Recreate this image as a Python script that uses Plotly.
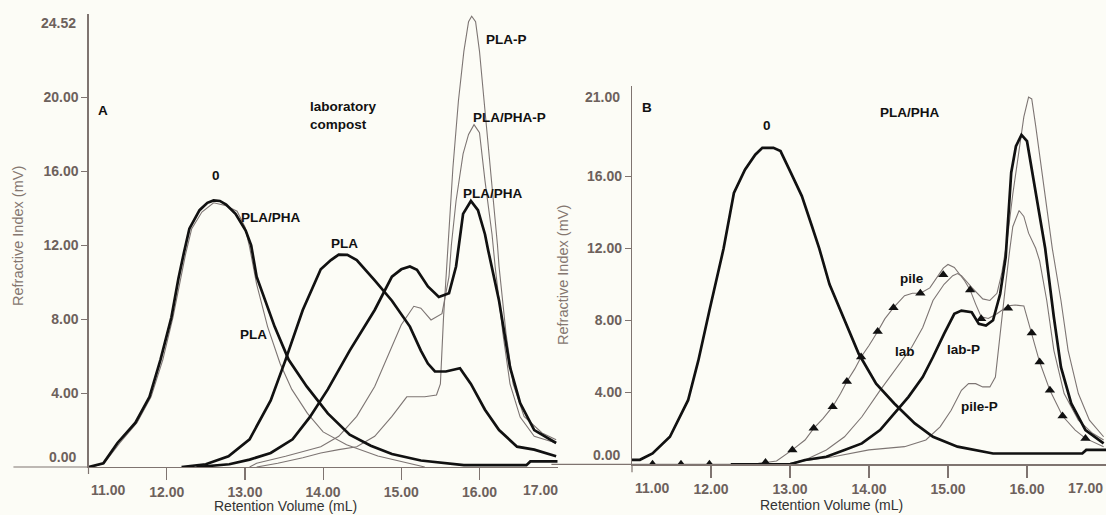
import plotly.graph_objects as go

# ---------------- Panel A (laboratory compost) ----------------
A0_X = [11.0, 11.1, 11.19, 11.37, 11.6, 11.78, 11.92, 12.06, 12.15, 12.22, 12.29, 12.42, 12.52, 12.6, 12.68,
        12.76, 12.88, 13.01, 13.08, 13.15, 13.38, 13.56, 13.79, 14.06, 14.34, 14.61, 14.88, 15.25, 15.8, 16.6, 16.65, 17.0]
A0_Y = [0.0, 0.1, 0.2, 1.3, 2.4, 3.8, 5.8, 8.1, 10.2, 11.6, 12.9, 13.9, 14.3, 14.43, 14.4,
        14.2, 13.7, 12.8, 12.0, 10.3, 7.6, 5.8, 4.36, 2.9, 1.75, 1.15, 0.7, 0.35, 0.1, 0.1, 0.3, 0.3]

A0T_X = [11.05, 11.2, 11.4, 11.62, 11.8, 11.95, 12.08, 12.24, 12.32, 12.45, 12.6, 12.75, 12.9, 13.0, 13.06,
         13.15, 13.29, 13.45, 13.6, 13.8, 14.0, 14.3, 14.7, 15.1, 15.3]
A0T_Y = [0.0, 0.2, 1.3, 2.4, 3.8, 5.8, 8.1, 11.5, 12.9, 13.8, 14.3, 14.15, 13.85, 13.0, 11.9,
         9.9, 7.6, 5.6, 4.2, 2.9, 1.9, 1.2, 0.6, 0.2, 0.0]

APLA_X = [12.19, 12.5, 12.79, 13.06, 13.33, 13.52, 13.74, 13.97, 14.1, 14.2, 14.31, 14.43, 14.66, 14.88, 15.11,
          15.25, 15.34, 15.43, 15.57, 15.7, 15.75, 15.89, 16.07, 16.25, 16.48, 16.7, 16.98]
APLA_Y = [0.0, 0.15, 0.58, 1.5, 3.6, 5.8, 8.5, 10.7, 11.2, 11.5, 11.48, 11.2, 10.1, 9.0, 7.6,
          6.3, 5.6, 5.17, 5.17, 5.3, 5.35, 4.5, 3.1, 2.0, 1.1, 0.94, 0.58]

ABLEND_X = [12.38, 12.8, 13.06, 13.33, 13.61, 13.83, 14.06, 14.34, 14.66, 14.88, 15.0, 15.11, 15.2, 15.34, 15.48,
            15.61, 15.7, 15.75, 15.79, 15.89, 15.98, 16.07, 16.11, 16.25, 16.39, 16.52, 16.7, 16.98]
ABLEND_Y = [0.0, 0.15, 0.4, 0.76, 1.5, 2.7, 4.2, 6.3, 8.5, 10.3, 10.7, 10.85, 10.67, 9.77, 9.2,
            9.4, 10.85, 12.6, 13.7, 14.4, 13.9, 12.6, 11.75, 9.0, 5.4, 3.46, 2.0, 1.3]

ABLENDP_X = [13.06, 13.15, 13.52, 13.97, 14.2, 14.43, 14.66, 14.88, 15.0, 15.16, 15.25, 15.38, 15.52, 15.61, 15.64,
             15.7, 15.79, 15.86, 15.93, 16.0, 16.07, 16.16, 16.2, 16.3, 16.39, 16.52, 16.7, 16.98]
ABLENDP_Y = [0.0, 0.2, 0.58, 1.1, 1.66, 2.74, 4.36, 6.5, 7.7, 8.7, 8.6, 7.96, 8.3, 10.3, 12.0,
             14.4, 16.95, 18.0, 18.53, 18.1, 15.5, 12.6, 10.85, 7.2, 4.5, 2.7, 1.66, 1.3]

APLAP_X = [13.15, 13.42, 13.74, 13.97, 14.2, 14.43, 14.66, 14.88, 15.07, 15.3, 15.45, 15.5, 15.54, 15.59, 15.66,
           15.73, 15.8, 15.86, 15.9, 15.95, 16.0, 16.07, 16.16, 16.23, 16.25, 16.34, 16.43, 16.57, 16.8, 16.98]
APLAP_Y = [0.0, 0.2, 0.5, 0.76, 0.94, 1.1, 1.66, 2.74, 3.8, 3.8, 3.9, 4.5, 8.1, 11.75, 16.2,
           19.8, 22.5, 24.1, 24.4, 24.1, 22.5, 19.3, 15.3, 12.0, 10.85, 7.2, 4.5, 2.74, 1.84, 1.48]

A_LABELS = ["A", "laboratory<br>compost", "PLA-P", "PLA/PHA-P", "PLA/PHA", "0", "PLA/PHA", "PLA", "PLA"]
A_LAB_X = [11.19, 13.81, 16.34, 16.38, 16.17, 12.63, 13.34, 14.27, 13.11]
A_LAB_Y = [19.3, 19.0, 23.15, 18.9, 14.8, 15.8, 13.53, 12.1, 7.15]
A_LAB_ANCHOR = ["center", "left", "center", "center", "center", "center", "center", "center", "center"]

# ---------------- Panel B (PLA/PHA) ----------------
B0_X = [11.0, 11.1, 11.26, 11.48, 11.71, 11.84, 11.98, 12.11, 12.16, 12.29, 12.43, 12.56, 12.65, 12.79, 12.88,
        13.01, 13.15, 13.28, 13.37, 13.5, 13.69, 13.87, 14.09, 14.32, 14.58, 14.81, 15.12, 15.57, 16.7, 16.75, 17.0]
B0_Y = [0.25, 0.25, 0.6, 1.53, 3.56, 5.77, 8.54, 10.94, 12.0, 15.07, 16.37, 17.2, 17.58, 17.58, 17.4,
        16.2, 14.9, 13.2, 12.0, 10.0, 8.0, 6.14, 4.48, 3.38, 2.27, 1.53, 0.98, 0.6, 0.6, 0.8, 0.8]

BLAB_X = [12.3, 13.0, 13.19, 13.46, 13.69, 13.91, 14.14, 14.36, 14.54, 14.68, 14.81, 14.95, 15.06, 15.12, 15.17,
          15.3, 15.44, 15.53, 15.62, 15.68, 15.75, 15.82, 15.89, 15.96, 16.02, 16.06, 16.11, 16.18, 16.25, 16.32,
          16.43, 16.52, 16.65, 16.79, 16.97]
BLAB_Y = [0.0, 0.05, 0.24, 0.8, 1.53, 2.64, 4.11, 5.4, 6.5, 7.6, 9.1, 10.0, 10.48, 10.6, 10.48,
          9.83, 9.19, 9.1, 9.5, 10.6, 12.5, 15.0, 17.3, 19.3, 20.4, 20.3, 18.8, 16.56, 14.3, 12.0,
          9.1, 6.33, 3.93, 2.45, 1.53]

BLABP_X = [12.25, 13.0, 13.19, 13.46, 13.69, 13.91, 14.14, 14.32, 14.5, 14.68, 14.81, 14.95, 15.08, 15.17, 15.3,
           15.39, 15.48, 15.57, 15.66, 15.73, 15.8, 15.86, 15.93, 16.0, 16.07, 16.16, 16.23, 16.34, 16.43, 16.56,
           16.74, 16.97]
BLABP_Y = [0.0, 0.0, 0.24, 0.42, 0.8, 1.16, 1.9, 2.82, 3.75, 4.85, 5.96, 7.25, 8.36, 8.54, 8.45,
           7.8, 7.71, 8.0, 9.46, 11.5, 16.2, 17.67, 18.3, 17.95, 16.2, 13.77, 12.0, 8.17, 5.4, 3.38,
           1.9, 1.16]

BPILEP_X = [13.1, 13.55, 14.0, 14.45, 14.72, 14.9, 15.04, 15.17, 15.26, 15.35, 15.44, 15.53, 15.6, 15.64, 15.69,
            15.73, 15.78, 15.82, 15.9, 15.96, 16.02, 16.11, 16.16, 16.25, 16.34, 16.47, 16.65, 16.83, 16.97]
BPILEP_Y = [0.15, 0.42, 0.8, 0.98, 1.35, 2.08, 3.0, 4.11, 4.48, 4.48, 4.3, 4.3, 4.85, 6.33, 8.17,
            10.0, 11.86, 13.2, 14.1, 13.77, 12.84, 12.0, 11.3, 9.1, 6.33, 3.93, 2.45, 1.72, 1.35]

BPILE_X = [11.0, 12.3, 12.6, 12.83, 13.03, 13.19, 13.3, 13.42, 13.54, 13.64, 13.72, 13.82, 13.9, 14.0, 14.11,
           14.2, 14.31, 14.45, 14.55, 14.65, 14.77, 14.86, 14.94, 15.0, 15.08, 15.21, 15.28, 15.35, 15.42, 15.51,
           15.62, 15.76, 15.85, 15.96, 16.06, 16.16, 16.29, 16.45, 16.61, 16.74, 16.97]
BPILE_Y = [0.0, 0.0, 0.05, 0.18, 0.8, 1.35, 2.0, 2.55, 3.2, 3.93, 4.6, 5.3, 5.96, 6.6, 7.38,
           8.08, 8.7, 9.37, 9.5, 9.5, 9.8, 10.4, 10.9, 11.1, 10.94, 10.2, 9.69, 8.9, 8.2, 8.1,
           8.36, 8.8, 8.85, 8.8, 7.29, 5.68, 4.11, 2.68, 1.9, 1.44, 0.98]

BPILE_MARK_X = [11.26, 11.62, 11.98, 12.69, 13.03, 13.3, 13.54, 13.72, 13.9, 14.11, 14.31, 14.65, 14.94, 15.28,
                15.42, 15.76, 16.06, 16.16, 16.29, 16.45, 16.74]
BPILE_MARK_Y = [0.0, 0.0, 0.0, 0.1, 0.8, 2.0, 3.2, 4.6, 5.96, 7.38, 8.7, 9.5, 10.53, 9.69,
                8.08, 8.67, 7.29, 5.68, 4.11, 2.68, 1.44]

B_LABELS = ["B", "PLA/PHA", "0", "pile", "lab", "lab-P", "pile-P"]
B_LAB_X = [11.19, 14.52, 12.71, 14.55, 14.45, 15.19, 15.4]
B_LAB_Y = [19.8, 19.53, 18.8, 10.3, 6.24, 6.37, 3.19]

X_TICKS = [12, 13, 14, 15, 16]
A_Y_TICKS = [4, 8, 12, 16, 20]
B_Y_TICKS = [4, 8, 12, 16]

# ---------------- styling ----------------
W, H = 1106, 515
BG = "#fcfcf6"
AXC = "#7f7470"
TICKC = "#6d615c"
YTC = "#857770"
FONT = "Liberation Sans, Arial, sans-serif"
THICK = dict(color="#111111", width=2.7)
THIN = dict(color="#7d7573", width=1.1)

fig = go.Figure()


def add(x, y, line, xa, ya):
    fig.add_trace(go.Scatter(x=x, y=y, mode="lines", line=line, xaxis=xa, yaxis=ya,
                             showlegend=False, hoverinfo="skip"))


# panel A: thin first, thick on top
add(A0T_X, A0T_Y, THIN, "x", "y")
add(APLAP_X, APLAP_Y, THIN, "x", "y")
add(ABLENDP_X, ABLENDP_Y, THIN, "x", "y")
add(A0_X, A0_Y, THICK, "x", "y")
add(APLA_X, APLA_Y, THICK, "x", "y")
add(ABLEND_X, ABLEND_Y, THICK, "x", "y")

# panel B
add(BLAB_X, BLAB_Y, THIN, "x2", "y2")
add(BPILEP_X, BPILEP_Y, THIN, "x2", "y2")
add(BPILE_X, BPILE_Y, THIN, "x2", "y2")
add(B0_X, B0_Y, THICK, "x2", "y2")
add(BLABP_X, BLABP_Y, THICK, "x2", "y2")
fig.add_trace(go.Scatter(x=BPILE_MARK_X, y=BPILE_MARK_Y, mode="markers", xaxis="x2", yaxis="y2",
                         marker=dict(symbol="triangle-up", size=9, color="#111111"),
                         showlegend=False, hoverinfo="skip"))

A_XDOM = [88.5 / W, 557.7 / W]
A_YDOM = [(H - 467) / H, (H - 14) / H]
B_XDOM = [632 / W, 1.0]
B_YDOM = [(H - 464.3) / H, (H - 86.3) / H]


def xax(dom, anchor):
    return dict(domain=dom, anchor=anchor, range=[11, 17], showgrid=False, zeroline=False,
                showline=True, linecolor=AXC, linewidth=1.2, ticks="outside", ticklen=12,
                tickcolor=AXC, tickwidth=1.2, tickvals=X_TICKS,
                ticktext=["<b>%.2f</b>" % v for v in X_TICKS],
                tickfont=dict(family=FONT, size=14, color=TICKC), fixedrange=True)


def yax(dom, anchor, rng, tv):
    return dict(domain=dom, anchor=anchor, range=rng, showgrid=False, zeroline=False,
                showline=True, linecolor=AXC, linewidth=1.2, ticks="outside", ticklen=6,
                tickcolor=AXC, tickwidth=1.2, tickvals=tv,
                ticktext=["<b>%.2f</b>" % v for v in tv],
                tickfont=dict(family=FONT, size=14, color=TICKC), fixedrange=True)


fig.update_layout(
    width=W, height=H, margin=dict(l=0, r=0, t=0, b=0),
    paper_bgcolor=BG, plot_bgcolor=BG, showlegend=False,
    xaxis=xax(A_XDOM, "y"), yaxis=yax(A_YDOM, "x", [0, 24.52], A_Y_TICKS),
    xaxis2=xax(B_XDOM, "y2"), yaxis2=yax(B_YDOM, "x2", [0, 21], B_Y_TICKS),
)

ann = []
for t, x, y, a in zip(A_LABELS, A_LAB_X, A_LAB_Y, A_LAB_ANCHOR):
    ann.append(dict(text="<b>%s</b>" % t, x=x, y=y, xref="x", yref="y", showarrow=False, xanchor=a,
                    align="left", font=dict(family=FONT, size=13.5, color="#111111")))
for t, x, y in zip(B_LABELS, B_LAB_X, B_LAB_Y):
    ann.append(dict(text="<b>%s</b>" % t, x=x, y=y, xref="x2", yref="y2", showarrow=False,
                    xanchor="center", font=dict(family=FONT, size=13.5, color="#111111")))


# end-of-axis labels (drawn inset, as in the original software)
def plab(text, px, py, xanchor="center"):
    ann.append(dict(text="<b>%s</b>" % text, x=px / W, y=1 - py / H, xref="paper", yref="paper",
                    showarrow=False, xanchor=xanchor, yanchor="middle",
                    font=dict(family=FONT, size=14, color=TICKC)))


plab("24.52", 78, 23, "right")
plab("0.00", 78, 457, "right")
plab("11.00", 108, 490)
plab("17.00", 540, 490)
plab("21.00", 622, 97, "right")
plab("0.00", 622, 455, "right")
plab("11.00", 652, 488)
plab("17.00", 1085, 488)


def title(text, px, py, angle=0, color="#333333", size=14.5):
    ann.append(dict(text=text, x=px / W, y=1 - py / H, xref="paper", yref="paper", textangle=angle,
                    showarrow=False, xanchor="center", yanchor="middle",
                    font=dict(family=FONT, size=size, color=color)))


title("Refractive Index (mV)", 18, 236, -90, YTC)
title("Refractive Index (mV)", 563, 275, -90, YTC)
title("Retention Volume (mL)", 285, 506, size=14)
title("Retention Volume (mL)", 831, 505, size=14)
fig.update_layout(annotations=ann)

# axis-line extensions (x line runs left past the y axis; y axis pokes below the x axis)
shapes = [
    dict(type="line", xref="x domain", yref="y domain", x0=-0.16, x1=0, y0=0, y1=0,
         line=dict(color=AXC, width=1.2)),
    dict(type="line", xref="x domain", yref="y domain", x0=0, x1=0, y0=0, y1=-7 / 453,
         line=dict(color=AXC, width=1.2)),
    dict(type="line", xref="x2 domain", yref="y2 domain", x0=-0.17, x1=0, y0=0, y1=0,
         line=dict(color=AXC, width=1.2)),
    dict(type="line", xref="x2 domain", yref="y2 domain", x0=0, x1=0, y0=0, y1=-8 / 378,
         line=dict(color=AXC, width=1.2)),
]
fig.update_layout(shapes=shapes)

fig.write_html("out.html", config={"displayModeBar": False, "staticPlot": True},
               post_script="document.body.style.margin='0';document.body.style.overflow='hidden';")
